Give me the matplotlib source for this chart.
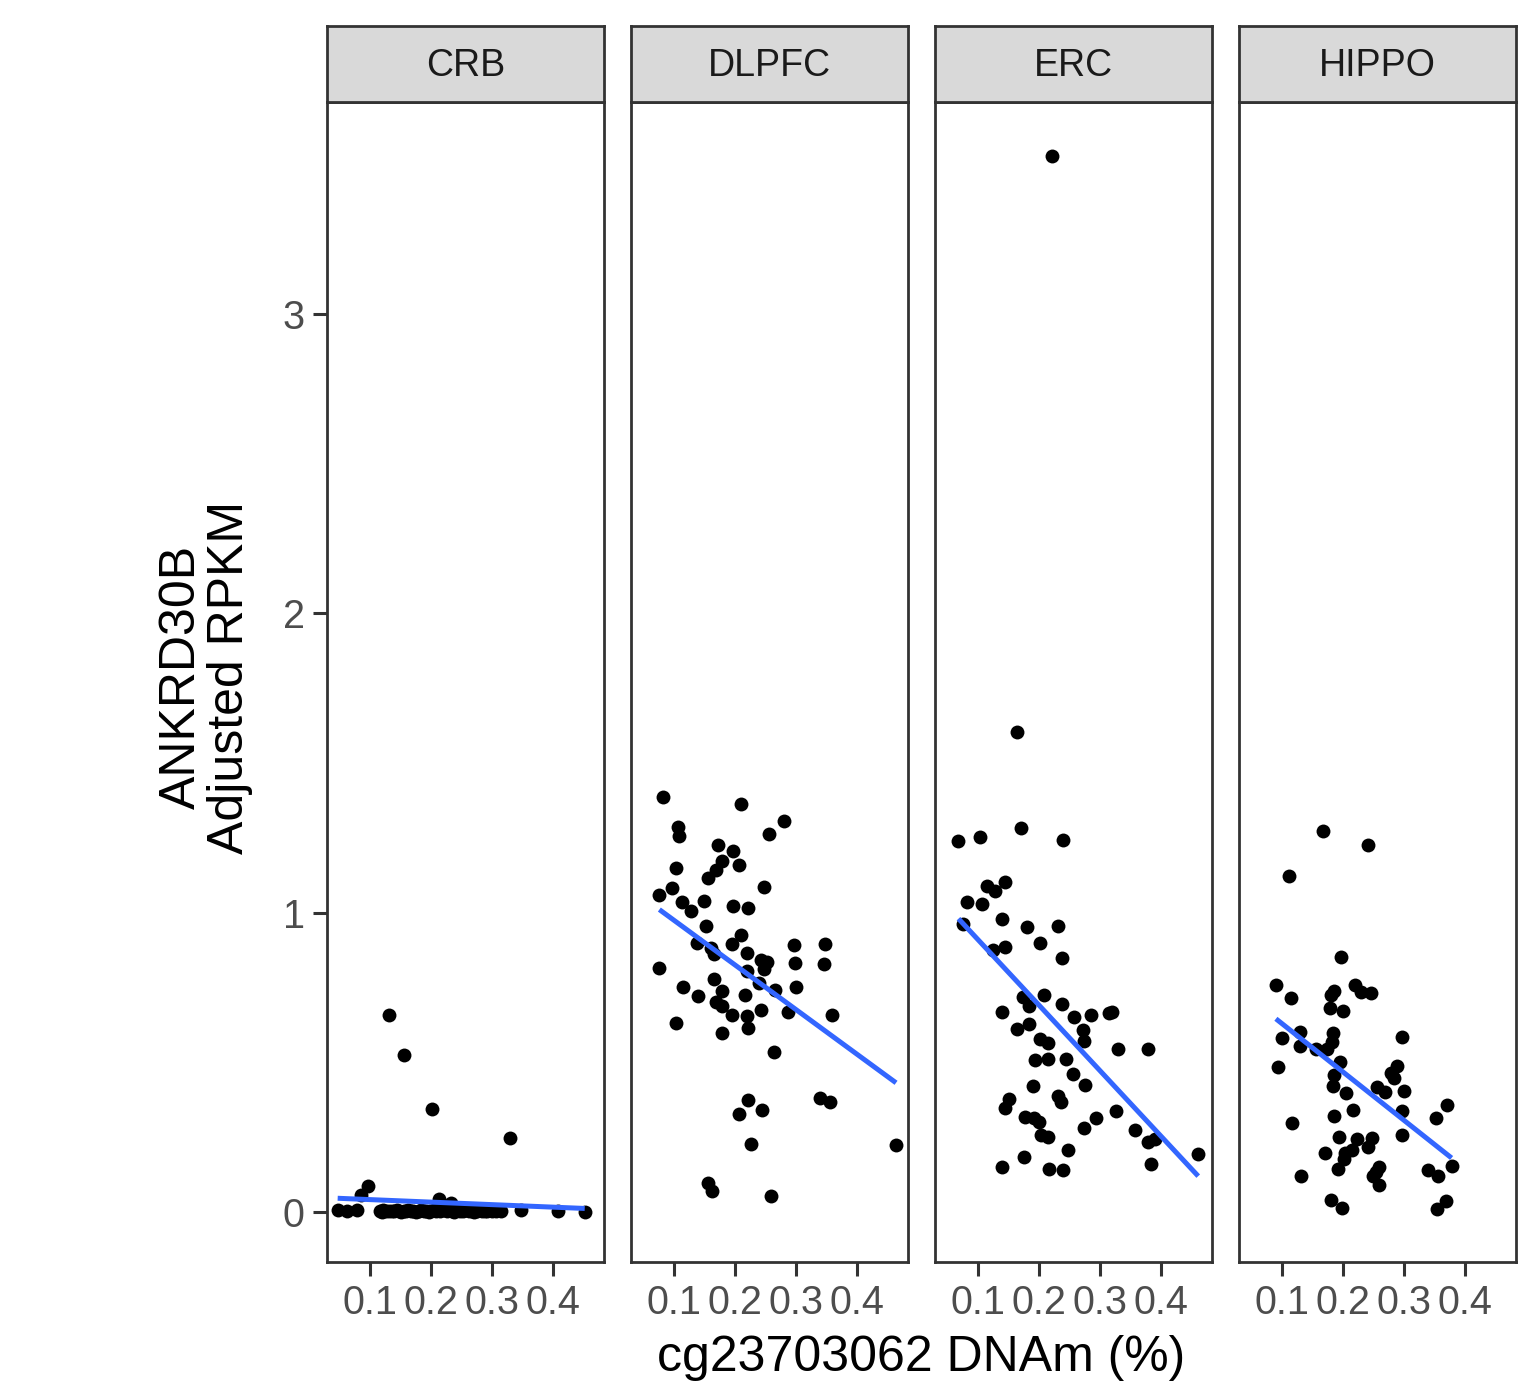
import numpy as np
import matplotlib
matplotlib.use("Agg")
import matplotlib.pyplot as plt

plt.rcParams['font.family'] = ['Liberation Sans', 'DejaVu Sans']

regions = ["CRB", "DLPFC", "ERC", "HIPPO"]

crb_x = [0.047, 0.062, 0.079, 0.085, 0.097, 0.117, 0.122, 0.131, 0.131, 0.140, 0.147, 0.155,
         0.155, 0.163, 0.170, 0.180, 0.188, 0.199, 0.202, 0.205, 0.213, 0.215, 0.222, 0.232,
         0.234, 0.240, 0.248, 0.255, 0.267, 0.275, 0.284, 0.292, 0.300, 0.314, 0.330, 0.348,
         0.409, 0.452, 0.120, 0.127, 0.136, 0.144, 0.151, 0.159, 0.167, 0.175, 0.184, 0.192,
         0.196, 0.209, 0.218, 0.226, 0.229, 0.237, 0.244, 0.252, 0.262, 0.270, 0.288, 0.306]
crb_y = [0.006, 0.004, 0.006, 0.057, 0.087, 0.003, 0.008, 0.658, 0.002, 0.005, 0.004, 0.525,
         0.002, 0.006, 0.003, 0.004, 0.002, 0.005, 0.345, 0.008, 0.043, 0.002, 0.006, 0.031,
         0.003, 0.010, 0.004, 0.006, 0.002, 0.004, 0.003, 0.005, 0.002, 0.004, 0.248, 0.007,
         0.005, 0.000, 0.001, 0.004, 0.002, 0.007, 0.001, 0.003, 0.005, 0.001, 0.007, 0.003,
         0.001, 0.004, 0.012, 0.002, 0.015, 0.001, 0.006, 0.002, 0.003, 0.001, 0.002, 0.003]

dlpfc_x = [0.082, 0.210, 0.281, 0.106, 0.108, 0.256, 0.172, 0.197, 0.179, 0.207, 0.169, 0.103,
           0.156, 0.248, 0.097, 0.076, 0.113, 0.149, 0.128, 0.197, 0.221, 0.152, 0.210, 0.137,
           0.195, 0.161, 0.166, 0.297, 0.348, 0.219, 0.243, 0.252, 0.247, 0.219, 0.298, 0.346,
           0.076, 0.166, 0.240, 0.266, 0.300, 0.115, 0.179, 0.139, 0.217, 0.169, 0.179, 0.287,
           0.242, 0.195, 0.219, 0.359, 0.103, 0.222, 0.179, 0.264, 0.222, 0.340, 0.356, 0.207,
           0.245, 0.226, 0.464, 0.155, 0.162, 0.259]
dlpfc_y = [1.388, 1.362, 1.307, 1.285, 1.257, 1.262, 1.226, 1.207, 1.174, 1.160, 1.143, 1.149,
           1.117, 1.085, 1.082, 1.059, 1.035, 1.039, 1.006, 1.023, 1.017, 0.956, 0.925, 0.900,
           0.895, 0.881, 0.862, 0.892, 0.895, 0.866, 0.842, 0.836, 0.812, 0.805, 0.831, 0.828,
           0.816, 0.778, 0.766, 0.742, 0.751, 0.751, 0.738, 0.722, 0.725, 0.703, 0.689, 0.669,
           0.675, 0.658, 0.656, 0.658, 0.630, 0.614, 0.597, 0.536, 0.374, 0.382, 0.367, 0.327,
           0.341, 0.226, 0.224, 0.096, 0.071, 0.053]

erc_x = [0.221, 0.164, 0.170, 0.068, 0.104, 0.240, 0.145, 0.114, 0.128, 0.082, 0.107, 0.139,
         0.076, 0.181, 0.231, 0.202, 0.125, 0.144, 0.237, 0.174, 0.208, 0.184, 0.237, 0.139,
         0.257, 0.285, 0.314, 0.319, 0.184, 0.164, 0.272, 0.202, 0.214, 0.274, 0.329, 0.379,
         0.193, 0.215, 0.244, 0.256, 0.275, 0.190, 0.151, 0.144, 0.231, 0.236, 0.177, 0.192,
         0.200, 0.327, 0.293, 0.274, 0.204, 0.215, 0.357, 0.379, 0.390, 0.248, 0.176, 0.461,
         0.383, 0.140, 0.216, 0.240]
erc_y = [3.528, 1.603, 1.283, 1.241, 1.254, 1.243, 1.104, 1.090, 1.072, 1.035, 1.028, 0.980,
         0.964, 0.951, 0.956, 0.898, 0.875, 0.884, 0.848, 0.719, 0.726, 0.688, 0.694, 0.668,
         0.650, 0.658, 0.666, 0.668, 0.629, 0.610, 0.608, 0.577, 0.564, 0.571, 0.546, 0.544,
         0.508, 0.510, 0.510, 0.460, 0.424, 0.421, 0.379, 0.346, 0.388, 0.369, 0.316, 0.313,
         0.300, 0.338, 0.313, 0.280, 0.257, 0.252, 0.274, 0.235, 0.243, 0.207, 0.183, 0.194,
         0.159, 0.149, 0.143, 0.140]

hippo_x = [0.167, 0.241, 0.111, 0.196, 0.090, 0.219, 0.230, 0.246, 0.185, 0.181, 0.115, 0.179,
           0.200, 0.129, 0.184, 0.100, 0.130, 0.182, 0.155, 0.174, 0.297, 0.195, 0.094, 0.289,
           0.278, 0.284, 0.185, 0.184, 0.256, 0.269, 0.300, 0.205, 0.216, 0.297, 0.371, 0.352,
           0.186, 0.117, 0.296, 0.193, 0.223, 0.248, 0.241, 0.214, 0.204, 0.170, 0.202, 0.259,
           0.254, 0.249, 0.191, 0.131, 0.259, 0.340, 0.356, 0.378, 0.180, 0.198, 0.369, 0.354]
hippo_y = [1.273, 1.226, 1.123, 0.852, 0.758, 0.758, 0.734, 0.733, 0.738, 0.725, 0.714, 0.683,
           0.672, 0.602, 0.599, 0.580, 0.556, 0.569, 0.544, 0.544, 0.586, 0.502, 0.486, 0.488,
           0.463, 0.449, 0.458, 0.421, 0.419, 0.402, 0.405, 0.399, 0.341, 0.337, 0.356, 0.313,
           0.321, 0.298, 0.257, 0.252, 0.244, 0.248, 0.216, 0.207, 0.196, 0.196, 0.176, 0.149,
           0.135, 0.121, 0.143, 0.121, 0.090, 0.140, 0.121, 0.154, 0.040, 0.014, 0.037, 0.009]

# linear-fit lines (geom_smooth, method = "lm")
fit_intercept = [0.0499, 1.124, 1.129, 0.791]
fit_slope = [-0.084, -1.492, -2.189, -1.615]

xs = [crb_x, dlpfc_x, erc_x, hippo_x]
ys = [crb_y, dlpfc_y, erc_y, hippo_y]

x_ticks = [0.1, 0.2, 0.3, 0.4]
x_ticklabels = ["0.1", "0.2", "0.3", "0.4"]
y_ticks = [0, 1, 2, 3]
y_ticklabels = ["0", "1", "2", "3"]

W, H = 1533, 1387
fig = plt.figure(figsize=(W / 100, H / 100), dpi=100)

panel_left_px = [327, 631, 935, 1239]
panel_w_px = 277
top_px, bottom_px = 102, 1262
strip_top_px = 26

dark = "#333333"
for i, reg in enumerate(regions):
    l = panel_left_px[i] / W
    w = panel_w_px / W
    b = (H - bottom_px) / H
    h = (bottom_px - top_px) / H
    ax = fig.add_axes([l, b, w, h])
    x = np.array(xs[i]); y = np.array(ys[i])
    ax.scatter(x, y, s=100, color="black", linewidths=0, zorder=3)
    xl = np.array([x.min(), x.max()])
    ax.plot(xl, fit_intercept[i] + fit_slope[i] * xl, color="#3366FF", lw=3.6,
            zorder=4, solid_capstyle="butt")
    ax.set_xlim(0.0295, 0.4836)
    ax.set_ylim(-0.167, 3.709)
    ax.set_xticks(x_ticks)
    ax.set_xticklabels(x_ticklabels)
    ax.tick_params(axis="x", length=10, width=2.2, color=dark, labelsize=28.5,
                   labelcolor="#4D4D4D", pad=6)
    ax.set_yticks(y_ticks)
    if i == 0:
        ax.set_yticklabels(y_ticklabels)
        ax.tick_params(axis="y", length=10, width=2.2, color=dark, labelsize=28.5,
                       labelcolor="#4D4D4D", pad=6)
    else:
        ax.tick_params(axis="y", left=False, labelleft=False)
    for sp in ax.spines.values():
        sp.set_color(dark)
        sp.set_linewidth(2.0)
    # strip
    sax = fig.add_axes([l, b + h, w, (top_px - strip_top_px) / H])
    sax.set_facecolor("#D9D9D9")
    sax.set_xticks([]); sax.set_yticks([])
    for sp in sax.spines.values():
        sp.set_color(dark)
        sp.set_linewidth(2.0)
    sax.text(0.5, 0.47, reg, ha="center", va="center", fontsize=27,
             color="#1A1A1A", transform=sax.transAxes)

fig.text(206 / W, (H - 677) / H, "ANKRD30B\nAdjusted RPKM", rotation=90,
         ha="center", va="center", fontsize=36, color="black", linespacing=1.05)
fig.text(921 / W, (H - 1358) / H, "cg23703062 DNAm (%)", ha="center",
         va="center", fontsize=36, color="black")

fig.savefig("out.png", dpi=100, facecolor="white")
